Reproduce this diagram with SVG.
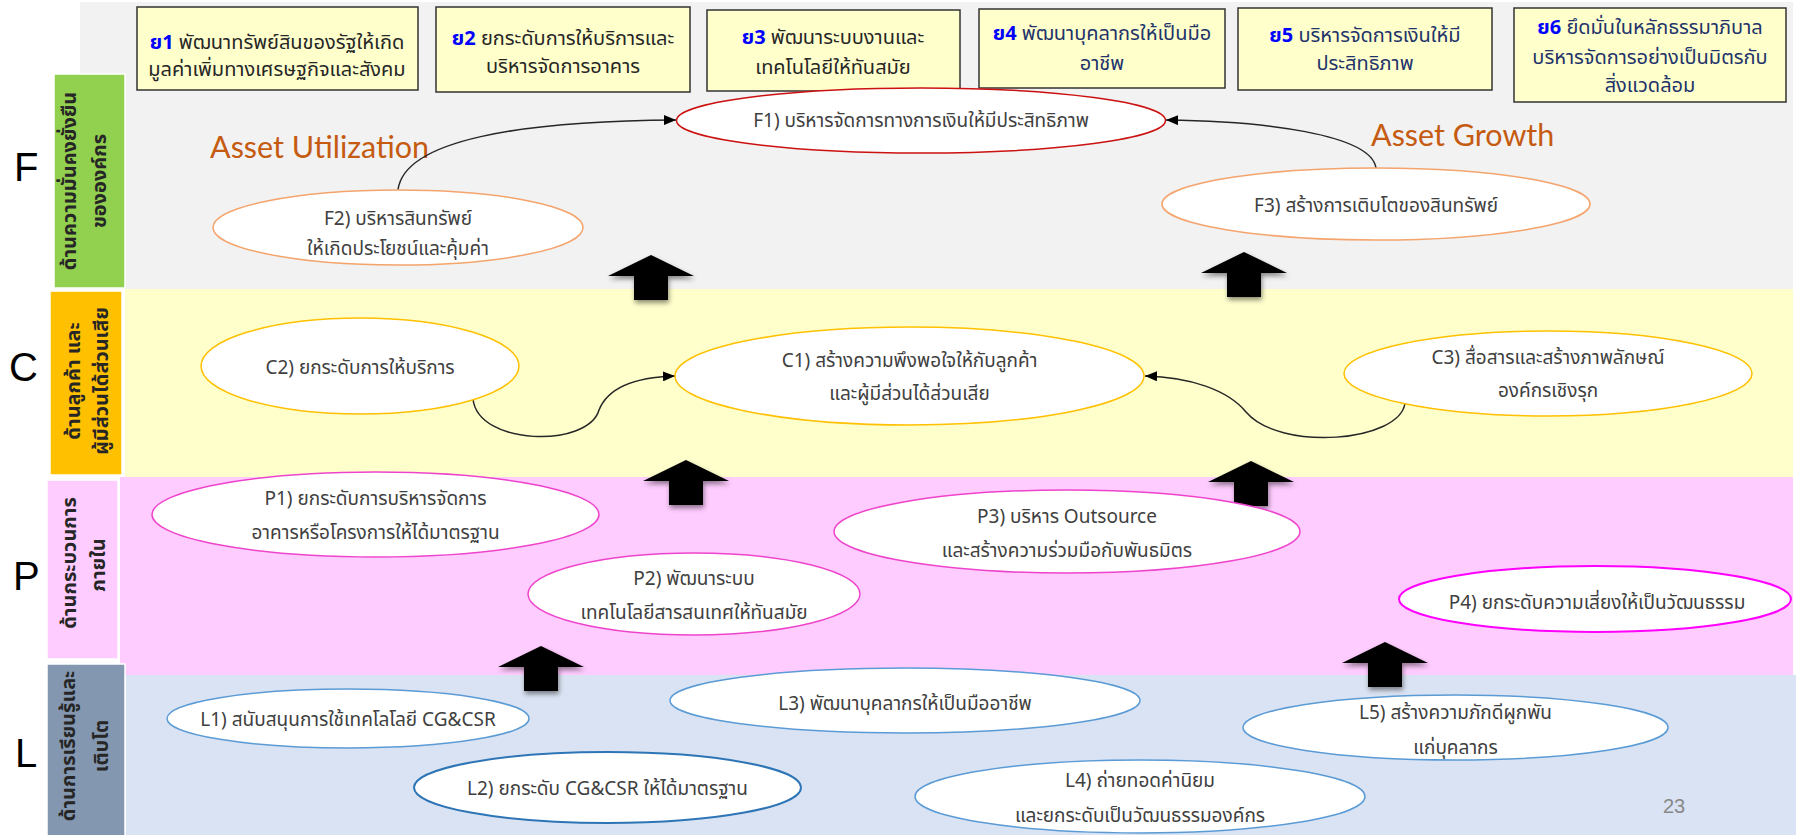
<svg xmlns="http://www.w3.org/2000/svg" xmlns:xlink="http://www.w3.org/1999/xlink" width="1796" height="835" viewBox="0 0 1796 835">
<defs>
<style>
.th{font-family:"Noto Sans Thai","Tahoma","Leelawadee UI","Noto Sans","DejaVu Sans",sans-serif}
.big{font-family:"Liberation Sans",Arial,sans-serif;font-size:40px;fill:#000}
.lbl{font-size:20px;font-weight:bold;fill:#262626;text-anchor:middle}
.lblbox{stroke:#fff;stroke-width:1.5}
.sbox{fill:#ffffcc;stroke:#333;stroke-width:1.5}
.st{font-size:20px;fill:#262626;text-anchor:middle}
.st2{font-size:20px;fill:#22336a;text-anchor:middle}
.sn{fill:#0000ff;font-weight:bold}
.nt{font-size:19px;fill:#404040;text-anchor:middle}
.ef{fill:#fff;stroke:#f4a46c;stroke-width:1.5}
.ec{fill:#fff;stroke:#ffc000;stroke-width:1.5}
.ep{fill:#fff;stroke:#ee44cc;stroke-width:1.5}
.el{fill:#fff;stroke:#5b9bd5;stroke-width:1.5}
.conn{fill:none;stroke:#262626;stroke-width:1.5}
.asset{font-family:Lato,"Liberation Sans",sans-serif;font-size:30.5px;fill:#c55a11}
.blk{fill:#000;filter:url(#sh)}
</style>
<marker id="ah" viewBox="0 0 12 10" refX="12" refY="5" markerWidth="12" markerHeight="10" markerUnits="userSpaceOnUse" orient="auto">
<path d="M0,0 L12,5 L0,10 Z" fill="#000"/>
</marker>
<filter id="sh" x="-30%" y="-30%" width="160%" height="170%">
<feGaussianBlur in="SourceAlpha" stdDeviation="2.5"/>
<feOffset dx="1" dy="3" result="b"/>
<feFlood flood-color="#000" flood-opacity="0.45"/>
<feComposite in2="b" operator="in"/>
<feMerge><feMergeNode/><feMergeNode in="SourceGraphic"/></feMerge>
</filter>
<path id="barrow" d="M0,0 L43,21 L17,21 L17,45 L-17,45 L-17,21 L-43,21 Z"/>
</defs>

<g id="bands">
<rect x="80" y="2" width="1713" height="287" fill="#f2f2f2"/>
<rect x="125" y="289" width="1668" height="188" fill="#ffffcc"/>
<rect x="120" y="477" width="1673" height="198" fill="#ffccff"/>
<rect x="126" y="675" width="1670" height="160" fill="#dae3f3"/>
</g>

<g id="perspective-F">
<rect class="lblbox" x="54" y="74" width="71" height="214" fill="#92d050"/>
<text class="big" x="14" y="181">F</text>
<text class="th lbl" transform="translate(76,181) rotate(-90)">ด้านความมั่นคงยั่งยืน</text>
<text class="th lbl" transform="translate(106,181) rotate(-90)">ขององค์กร</text>
</g>
<g id="perspective-C">
<rect class="lblbox" x="50" y="291" width="72" height="184" fill="#ffc000"/>
<text class="big" x="9" y="381">C</text>
<text class="th lbl" transform="translate(80,381) rotate(-90)">ด้านลูกค้า และ</text>
<text class="th lbl" transform="translate(108,381) rotate(-90)">ผู้มีส่วนได้ส่วนเสีย</text>
</g>
<g id="perspective-P">
<rect class="lblbox" x="47" y="480" width="71" height="179" fill="#ffccff"/>
<text class="big" x="13" y="590">P</text>
<text class="th lbl" transform="translate(76,563) rotate(-90)">ด้านกระบวนการ</text>
<text class="th lbl" transform="translate(105,565) rotate(-90)">ภายใน</text>
</g>
<g id="perspective-L">
<rect class="lblbox" x="47" y="664" width="78" height="172" fill="#8497b0"/>
<text class="big" x="15" y="767">L</text>
<text class="th lbl" transform="translate(75,746) rotate(-90)">ด้านการเรียนรู้และ</text>
<text class="th lbl" transform="translate(108,746) rotate(-90)">เติบโต</text>
</g>

<g id="strategy-1">
<rect class="sbox" x="137" y="7" width="281" height="83"/>
<text class="th st" x="277" y="49"><tspan class="sn">ย1</tspan> พัฒนาทรัพย์สินของรัฐให้เกิด</text>
<text class="th st" x="277" y="76">มูลค่าเพิ่มทางเศรษฐกิจและสังคม</text>
</g>
<g id="strategy-2">
<rect class="sbox" x="436" y="7" width="254" height="85"/>
<text class="th st" x="563" y="45"><tspan class="sn">ย2</tspan> ยกระดับการให้บริการและ</text>
<text class="th st" x="563" y="73">บริหารจัดการอาคาร</text>
</g>
<g id="strategy-3">
<rect class="sbox" x="707" y="10" width="253" height="81"/>
<text class="th st" x="833" y="44"><tspan class="sn">ย3</tspan> พัฒนาระบบงานและ</text>
<text class="th st" x="833" y="74">เทคโนโลยีให้ทันสมัย</text>
</g>
<g id="strategy-4">
<rect class="sbox" x="979" y="9" width="246" height="79"/>
<text class="th st2" x="1102" y="40"><tspan class="sn">ย4</tspan> พัฒนาบุคลากรให้เป็นมือ</text>
<text class="th st2" x="1102" y="70">อาชีพ</text>
</g>
<g id="strategy-5">
<rect class="sbox" x="1238" y="8" width="254" height="82"/>
<text class="th st2" x="1365" y="42"><tspan class="sn">ย5</tspan> บริหารจัดการเงินให้มี</text>
<text class="th st2" x="1365" y="70">ประสิทธิภาพ</text>
</g>
<g id="strategy-6">
<rect class="sbox" x="1514" y="8" width="272" height="94"/>
<text class="th st2" x="1650" y="34"><tspan class="sn">ย6</tspan> ยึดมั่นในหลักธรรมาภิบาล</text>
<text class="th st2" x="1650" y="64">บริหารจัดการอย่างเป็นมิตรกับ</text>
<text class="th st2" x="1650" y="92">สิ่งแวดล้อม</text>
</g>

<g id="label-asset-utilization"><text class="asset" x="210" y="158">Asset Utilization</text></g>
<g id="label-asset-growth"><text class="asset" x="1371" y="146">Asset Growth</text></g>

<g id="connectors">
<path class="conn" d="M398,190 C404,140 520,121 676,120" marker-end="url(#ah)"/>
<path class="conn" d="M1376,168 C1371,134 1262,121 1166,120" marker-end="url(#ah)"/>
<path class="conn" d="M473,399 C478,446 588,448 599,410 C609,385 640,377 675,376" marker-end="url(#ah)"/>
<path class="conn" d="M1405,403 C1400,442 1280,452 1246,412 C1228,390 1190,377 1145,376" marker-end="url(#ah)"/>
<use class="blk" xlink:href="#barrow" href="#barrow" x="651" y="255"/>
<use class="blk" xlink:href="#barrow" href="#barrow" x="1244" y="252"/>
<use class="blk" xlink:href="#barrow" href="#barrow" x="686" y="460"/>
<use class="blk" xlink:href="#barrow" href="#barrow" x="1251" y="461"/>
<use class="blk" xlink:href="#barrow" href="#barrow" x="541" y="646"/>
<use class="blk" xlink:href="#barrow" href="#barrow" x="1385" y="642"/>
</g>

<g id="F1"><ellipse cx="921" cy="120.5" rx="244.5" ry="32.5" fill="#fff" stroke="#cc1111" stroke-width="1.5"/>
<text class="th nt" x="921" y="127">F1) บริหารจัดการทางการเงินให้มีประสิทธิภาพ</text></g>
<g id="F2"><ellipse class="ef" cx="398" cy="227.5" rx="185" ry="37.5"/>
<text class="th nt" x="398" y="225">F2) บริหารสินทรัพย์</text>
<text class="th nt" x="398" y="255">ให้เกิดประโยชน์และคุ้มค่า</text></g>
<g id="F3"><ellipse class="ef" cx="1376" cy="204" rx="214" ry="36"/>
<text class="th nt" x="1376" y="212">F3) สร้างการเติบโตของสินทรัพย์</text></g>

<g id="C1"><ellipse class="ec" cx="909.5" cy="376" rx="234.5" ry="49"/>
<text class="th nt" x="909.5" y="367">C1) สร้างความพึงพอใจให้กับลูกค้า</text>
<text class="th nt" x="909.5" y="400">และผู้มีส่วนได้ส่วนเสีย</text></g>
<g id="C2"><ellipse class="ec" cx="360" cy="366" rx="159" ry="48"/>
<text class="th nt" x="360" y="374">C2) ยกระดับการให้บริการ</text></g>
<g id="C3"><ellipse class="ec" cx="1548" cy="373.5" rx="204" ry="42.5"/>
<text class="th nt" x="1548" y="364">C3) สื่อสารและสร้างภาพลักษณ์</text>
<text class="th nt" x="1548" y="397">องค์กรเชิงรุก</text></g>

<g id="P1"><ellipse class="ep" cx="375.5" cy="514.5" rx="223.5" ry="42.5"/>
<text class="th nt" x="375.5" y="505">P1) ยกระดับการบริหารจัดการ</text>
<text class="th nt" x="375.5" y="539">อาคารหรือโครงการให้ได้มาตรฐาน</text></g>
<g id="P2"><ellipse class="ep" cx="694" cy="594" rx="166" ry="41"/>
<text class="th nt" x="694" y="585">P2) พัฒนาระบบ</text>
<text class="th nt" x="694" y="619">เทคโนโลยีสารสนเทศให้ทันสมัย</text></g>
<g id="P3"><ellipse class="ep" cx="1067" cy="531.5" rx="233" ry="41.5"/>
<text class="th nt" x="1067" y="523">P3) บริหาร Outsource</text>
<text class="th nt" x="1067" y="557">และสร้างความร่วมมือกับพันธมิตร</text></g>
<g id="P4"><ellipse cx="1595" cy="599" rx="196" ry="33" fill="#fff" stroke="#ff00ff" stroke-width="2"/>
<text class="th nt" x="1597" y="609">P4) ยกระดับความเสี่ยงให้เป็นวัฒนธรรม</text></g>

<g id="L1"><ellipse class="el" cx="348" cy="718.5" rx="181" ry="29.5"/>
<text class="th nt" x="348" y="726">L1) สนับสนุนการใช้เทคโลโลยี CG&amp;CSR</text></g>
<g id="L2"><ellipse cx="607.5" cy="787.5" rx="193.5" ry="35.5" fill="#fff" stroke="#2e75b6" stroke-width="2"/>
<text class="th nt" x="607.5" y="795">L2) ยกระดับ CG&amp;CSR ให้ได้มาตรฐาน</text></g>
<g id="L3"><ellipse class="el" cx="905" cy="700.5" rx="235" ry="32.5"/>
<text class="th nt" x="905" y="710">L3) พัฒนาบุคลากรให้เป็นมืออาชีพ</text></g>
<g id="L4"><ellipse class="el" cx="1140" cy="796.5" rx="225" ry="36.5"/>
<text class="th nt" x="1140" y="787">L4) ถ่ายทอดค่านิยม</text>
<text class="th nt" x="1140" y="822">และยกระดับเป็นวัฒนธรรมองค์กร</text></g>
<g id="L5"><ellipse class="el" cx="1455.5" cy="727.5" rx="212.5" ry="32.5"/>
<text class="th nt" x="1455.5" y="719">L5) สร้างความภักดีผูกพัน</text>
<text class="th nt" x="1455.5" y="754">แก่บุคลากร</text></g>

<g id="page-number"><text x="1663" y="813" font-family="Liberation Sans,Arial,sans-serif" font-size="20" fill="#888">23</text></g>
</svg>
